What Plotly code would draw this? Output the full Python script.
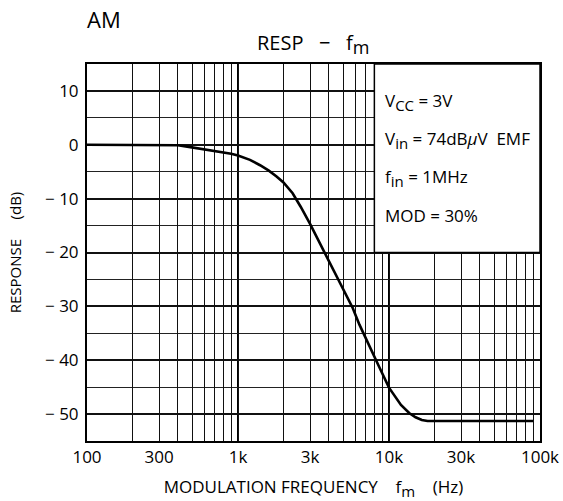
import math
import plotly.graph_objects as go

# data
freq_hz = [100, 350, 400, 450, 500, 600, 700, 800, 900, 1000, 1200, 1400, 1600, 1800,
           2000, 2300, 2600, 3000, 3400, 3838, 4500, 5000, 5750, 6370, 7000, 8000, 8630,
           10000, 11000, 12000, 13600, 15000, 16500, 18000, 90000]
response_db = [0, 0, -0.1, -0.3, -0.5, -0.8, -1.05, -1.35, -1.65, -2.0, -2.8, -3.8, -4.8,
               -5.9, -7.0, -9.0, -11.5, -14.7, -17.7, -20.3, -24.2, -26.8, -30.3, -33.4,
               -35.9, -39.6, -41.3, -45.1, -46.9, -48.3, -49.8, -50.6, -51.1, -51.3, -51.3]

x_grid = [m * 10 ** e for e in (2, 3, 4) for m in range(1, 10)] + [100000]
x_labels = {100: "100", 300: "300", 1000: "1k", 3000: "3k", 10000: "10k",
            30000: "30k", 100000: "100k"}
y_ticks = [10, 0, -10, -20, -30, -40, -50]
y_ticktext = ["10", "0", "\u2212 10", "\u2212 20", "\u2212 30", "\u2212 40", "\u2212 50"]
y_minor = [15, 5, -5, -15, -25, -35, -45, -55]


def sub(t, px):
    return '<sub><span style="font-size:%dpx">%s</span></sub>' % (px, t)


conditions = ["V" + sub("CC", 15) + " = 3V",
              "V" + sub("in", 15) + " = 74dB<i>\u03bc</i>V\u00a0\u00a0EMF",
              "f" + sub("in", 15) + " = 1MHz",
              "MOD = 30%"]
cond_y = [8.0, 0.9, -6.2, -13.2]

FONT = "Open Sans"
NB = "\u00a0"

fig = go.Figure()
fig.add_trace(go.Scatter(x=freq_hz, y=response_db, mode="lines",
                         line=dict(color="black", width=2.6),
                         showlegend=False, hoverinfo="skip"))

fig.update_xaxes(type="log", range=[2, 5], automargin=False,
                 tickvals=x_grid,
                 ticktext=[x_labels.get(v, "") for v in x_grid],
                 showgrid=True, gridcolor="#111", gridwidth=1.2,
                 showline=True, linecolor="black", linewidth=2, mirror=True,
                 ticks="", zeroline=False,
                 tickfont=dict(family=FONT, size=17, color="black"),
                 title=dict(text="MODULATION FREQUENCY" + NB * 4 + "f" + sub("m", 15) + NB * 4 + "(Hz)",
                            font=dict(family=FONT, size=17, color="black"), standoff=17))
fig.update_yaxes(range=[-55, 15], automargin=False,
                 tickvals=y_ticks, ticktext=y_ticktext,
                 showgrid=True, gridcolor="#111", gridwidth=2,
                 minor=dict(tickvals=y_minor, showgrid=True, gridcolor="#222", gridwidth=1.1, ticks=""),
                 showline=True, linecolor="black", linewidth=2, mirror=True,
                 ticks="", zeroline=False, ticklabelstandoff=3,
                 tickfont=dict(family=FONT, size=17, color="black"),
                 title=dict(text="RESPONSE" + NB * 5 + "(dB)",
                            font=dict(family=FONT, size=15, color="black"), standoff=20))

shapes = []
for f in (1000, 10000):
    xp = (math.log10(f) - 2) / 3
    shapes.append(dict(type="line", xref="paper", yref="paper", x0=xp, x1=xp, y0=0, y1=1,
                       line=dict(color="black", width=2), layer="below"))
box_x0 = (math.log10(8000) - 2) / 3
shapes.append(dict(type="rect", xref="paper", yref="y", x0=box_x0, x1=1, y0=-20, y1=15,
                   fillcolor="white", line=dict(color="black", width=1.5), layer="above"))
fig.update_layout(shapes=shapes)

for txt, yv in zip(conditions, cond_y):
    fig.add_annotation(x=box_x0 + 0.018, y=yv, xref="paper", yref="y", text=txt,
                       showarrow=False, xanchor="left", yanchor="middle",
                       font=dict(family=FONT, size=17, color="black"))

fig.add_annotation(xref="paper", yref="paper", x=-0.004, y=1.12, text="AM", showarrow=False,
                   xanchor="left", yanchor="middle", font=dict(family=FONT, size=22, color="black"))
fig.add_annotation(xref="paper", yref="paper", x=0.498, y=1.008,
                   text="RESP" + NB * 3 + "\u2212" + NB * 3 + "f" + sub("m", 18),
                   showarrow=False, xanchor="center", yanchor="bottom",
                   font=dict(family=FONT, size=20, color="black"))

fig.update_layout(width=563, height=501, paper_bgcolor="white", plot_bgcolor="white",
                  margin=dict(l=87, r=23, t=64, b=60),
                  font=dict(family=FONT, color="black"))
fig.write_html("out.html", config={"displayModeBar": False},
               post_script="document.body.style.margin='0px';")
